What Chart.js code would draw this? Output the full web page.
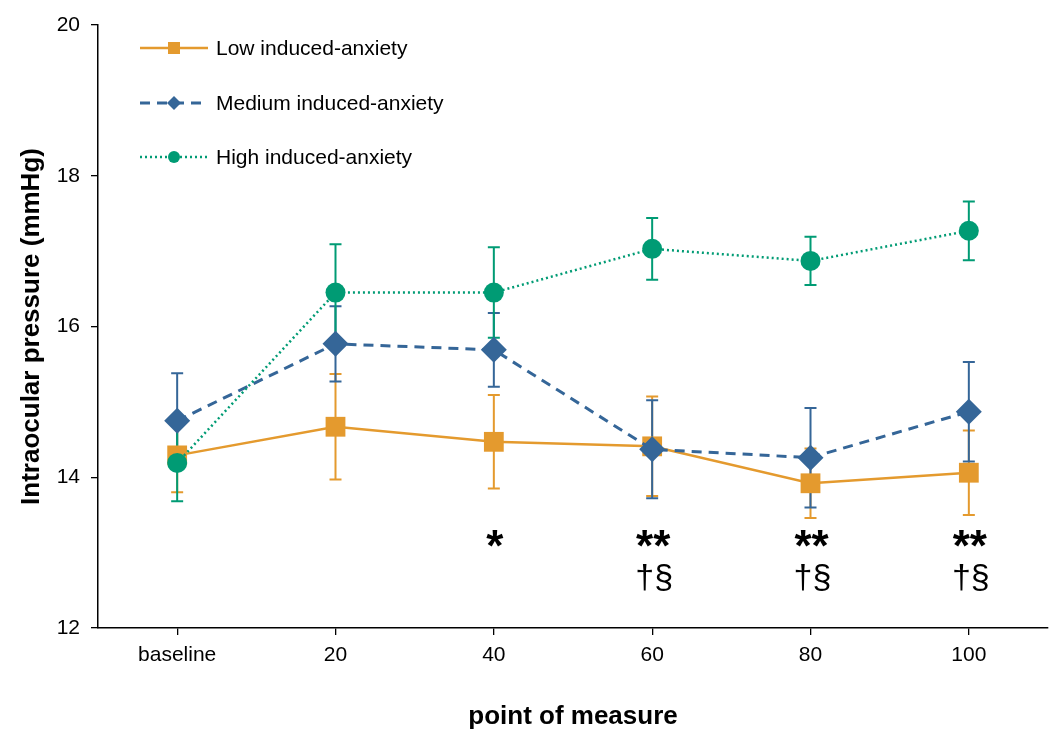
<!DOCTYPE html>
<html>
<head>
<meta charset="utf-8">
<script src="https://cdn.jsdelivr.net/npm/chart.js@4/dist/chart.umd.min.js"></script>
<style>
html,body{margin:0;padding:0;background:#fff;}
#wrap{width:1051px;height:735px;}
</style>
</head>
<body>
<div id="wrap"><canvas id="c" width="1051" height="735"></canvas></div>
<script>
const categories = ['baseline', '20', '40', '60', '80', '100'];
const lowValues  = [14.29, 14.67, 14.47, 14.41, 13.92, 14.06];
const lowErr     = [0.49, 0.70, 0.62, 0.66, 0.46, 0.56];
const medValues  = [14.75, 15.77, 15.69, 14.37, 14.26, 14.87];
const medErr     = [0.63, 0.50, 0.49, 0.65, 0.66, 0.66];
const highValues = [14.19, 16.45, 16.45, 17.03, 16.87, 17.27];
const highErr    = [0.51, 0.64, 0.60, 0.41, 0.32, 0.39];
const annoTop    = ['', '', '*', '**', '**', '**'];
const annoBottom = ['', '', '', '†§', '†§', '†§'];
const yTicks     = [12, 14, 16, 18, 20];
const seriesNames = ['Low induced-anxiety', 'Medium induced-anxiety', 'High induced-anxiety'];

const ORANGE = '#E49A2E', BLUE = '#356698', GREEN = '#009B74';
const FONT = '"Liberation Sans", Arial, sans-serif';

const errorBars = {
  id: 'errorBars',
  beforeDatasetsDraw(chart) {
    const ctx = chart.ctx, x = chart.scales.x, y = chart.scales.y;
    chart.data.datasets.forEach((ds) => {
      ctx.save();
      ctx.strokeStyle = ds.borderColor;
      ctx.lineWidth = 2;
      ds.errors.forEach((e, i) => {
        const px = x.getPixelForValue(i);
        const top = y.getPixelForValue(ds.data[i] + e);
        const bot = y.getPixelForValue(ds.data[i] - e);
        ctx.beginPath();
        ctx.moveTo(px, top); ctx.lineTo(px, bot);
        ctx.moveTo(px - 6, top); ctx.lineTo(px + 6, top);
        ctx.moveTo(px - 6, bot); ctx.lineTo(px + 6, bot);
        ctx.stroke();
      });
      ctx.restore();
    });
  }
};

function drawMarker(ctx, style, cx, cy, size, color) {
  ctx.fillStyle = color;
  ctx.beginPath();
  if (style === 'rect') {
    ctx.rect(cx - size / 2, cy - size / 2, size, size);
  } else if (style === 'rectRot') {
    ctx.moveTo(cx, cy - size / 2); ctx.lineTo(cx + size / 2, cy);
    ctx.lineTo(cx, cy + size / 2); ctx.lineTo(cx - size / 2, cy);
    ctx.closePath();
  } else {
    ctx.arc(cx, cy, size / 2, 0, Math.PI * 2);
  }
  ctx.fill();
}

const customLegend = {
  id: 'customLegend',
  afterDraw(chart) {
    const ctx = chart.ctx;
    const rows = [48, 103, 157];
    const sizes = [12, 14, 12];
    chart.data.datasets.forEach((ds, i) => {
      const yy = rows[i];
      ctx.save();
      ctx.strokeStyle = ds.borderColor;
      ctx.lineWidth = ds.borderWidth;
      ctx.setLineDash(ds.borderDash || []);
      ctx.beginPath(); ctx.moveTo(140, yy); ctx.lineTo(208, yy); ctx.stroke();
      ctx.setLineDash([]);
      drawMarker(ctx, ds.pointStyle, 174, yy, sizes[i], ds.borderColor);
      ctx.fillStyle = '#000';
      ctx.font = '21px ' + FONT;
      ctx.textBaseline = 'middle';
      ctx.textAlign = 'left';
      ctx.fillText(ds.label, 216, yy + 1);
      ctx.restore();
    });
  }
};

const annotations = {
  id: 'annotations',
  afterDatasetsDraw(chart) {
    const ctx = chart.ctx, x = chart.scales.x;
    ctx.save();
    ctx.fillStyle = '#000';
    ctx.textAlign = 'center';
    ctx.textBaseline = 'alphabetic';
    annoTop.forEach((t, i) => {
      if (!t) return;
      ctx.font = 'bold 44px ' + FONT;
      ctx.fillText(t, x.getPixelForValue(i) + 1, 561);
    });
    annoBottom.forEach((t, i) => {
      if (!t) return;
      ctx.font = '34px ' + FONT;
      ctx.fillText(t, x.getPixelForValue(i) + 2, 588);
    });
    ctx.restore();
  }
};

new Chart(document.getElementById('c'), {
  type: 'line',
  data: {
    labels: categories,
    datasets: [
      { label: seriesNames[0], data: lowValues, errors: lowErr, borderColor: ORANGE, backgroundColor: ORANGE,
        borderWidth: 2.5, pointStyle: 'rect', pointRadius: 14, pointBorderWidth: 0, order: 3 },
      { label: seriesNames[1], data: medValues, errors: medErr, borderColor: BLUE, backgroundColor: BLUE,
        borderWidth: 3, borderDash: [10, 7], pointStyle: 'rectRot', pointRadius: 13, pointBorderWidth: 0, order: 2 },
      { label: seriesNames[2], data: highValues, errors: highErr, borderColor: GREEN, backgroundColor: GREEN,
        borderWidth: 2.5, borderDash: [2, 3], pointStyle: 'circle', pointRadius: 10, pointBorderWidth: 0, order: 1 }
    ]
  },
  options: {
    responsive: false,
    devicePixelRatio: 1,
    animation: false,
    layout: { autoPadding: false, padding: { top: 25, right: 3, left: 0, bottom: 0 } },
    plugins: { legend: { display: false }, tooltip: { enabled: false } },
    scales: {
      x: {
        type: 'category',
        offset: true,
        grid: { display: true, drawOnChartArea: false, offset: false, tickLength: 7, color: '#000', lineWidth: 1.3 },
        border: { color: '#000', width: 1.5 },
        ticks: { color: '#000', font: { family: FONT, size: 21 }, padding: 8, maxRotation: 0 },
        title: { display: true, text: 'point of measure', color: '#000',
                 font: { family: FONT, size: 26, weight: 'bold' }, padding: { top: 0, bottom: 3 } },
        afterFit(s) { s.height = 107; }
      },
      y: {
        min: 12, max: 20,
        afterBuildTicks(s) { s.ticks = yTicks.map(v => ({ value: v })); },
        grid: { display: true, drawOnChartArea: false, tickLength: 7, color: '#000', lineWidth: 1.3 },
        border: { color: '#000', width: 1.5 },
        ticks: { color: '#000', font: { family: FONT, size: 21 }, padding: 11 },
        title: { display: true, text: 'Intraocular pressure (mmHg)', color: '#000',
                 font: { family: FONT, size: 26, weight: 'bold' }, padding: { top: 16, bottom: 0 } },
        afterFit(s) { s.width = 98; }
      }
    }
  },
  plugins: [errorBars, annotations, customLegend]
});
</script>
</body>
</html>
